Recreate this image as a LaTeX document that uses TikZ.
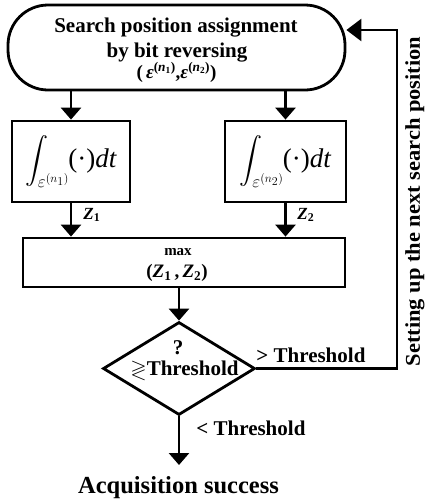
\documentclass[tikz,border=0pt]{standalone}
\usepackage{amsmath,amssymb}
\usepackage{graphicx}
\usepackage{fontspec}
\setmainfont{Liberation Serif}
\usetikzlibrary{arrows.meta,shapes.geometric}
\newcommand{\fsz}[1]{\fontsize{#1}{#1}\selectfont}
\newcommand{\epsn}[1]{{\itshape ε}\textsuperscript{({\itshape n}\textsubscript{#1})}}
\newcommand{\intof}[1]{{\fsz{23}$\displaystyle\int_{\varepsilon^{(n_{#1})}}$}\kern-1pt{\fsz{27}(·)\textit{dt}}}
\newcommand{\zz}[1]{{\itshape Z}\textsubscript{#1}}
\tikzset{
  flow/.style={-{Triangle[width=20pt,length=12pt]}},
  backflow/.style={-{Triangle[width=22pt,length=15pt]}},
  box/.style={draw, rectangle, inner sep=0pt},
  txt/.style={inner sep=0pt, font=\bfseries\fsz{21}},
  f15/.style={font=\bfseries\fsz{15}},
  f17/.style={font=\bfseries\fsz{17}},
  f19/.style={font=\bfseries\fsz{19}},
  f24/.style={font=\bfseries\fsz{24.5}},
}
\begin{document}
\begin{tikzpicture}[x=1pt,y=-1pt,line width=2.8pt]
\useasboundingbox (0,0) rectangle (425,501);
% top pill
\node[box, rounded corners=40pt, minimum width=337pt, minimum height=85pt] (pill) at (176.5,47.5) {};
\node[txt, anchor=base] (t1) at (176,32) {Search position assignment};
\node[txt, anchor=base] (t2) at (177,57) {by bit reversing};
\node[txt, f19, anchor=base] (t3) at (176.5,78) {(\,\epsn{1},\epsn{2})};
% integrator boxes
\node[box, minimum width=118pt, minimum height=81pt] (b1) at (71,161.5) {\intof{1}};
\node[box, minimum width=121pt, minimum height=81pt] (b2) at (285.5,161.5) {\intof{2}};
% max box
\node[box, minimum width=322pt, minimum height=49pt] (mx) at (184,262.5) {};
\node[txt, f15] (mxt) at (178,252) {max};
\node[txt, f19] (mxz) at (177,273) {(\zz{1}\,,\,\zz{2})};
% decision
\node[draw, diamond, inner sep=0pt, minimum width=152pt, minimum height=93pt] (dec) at (179,368.5) {};
\node[txt] (q) at (178,348) {?};
\node[txt] (thr) at (184.5,370) {$\gtrless$Threshold};
% arrows
\draw[flow] (pill.south -| b1.north) -- (b1.north);
\draw[flow] (pill.south -| b2.north) -- (b2.north);
\draw[flow] (b1.south) -- (b1.south |- mx.north);
\draw[flow] (b2.south) -- (b2.south |- mx.north);
\node[txt, anchor=west, f17] (z1) at (82,215) {\zz{1}};
\node[txt, anchor=west, f17] (z2) at (296,215) {\zz{2}};
\draw[flow] (mx.south -| dec.north) -- (dec.north);
\coordinate (fbb) at (397,368.5);
\coordinate (fbt) at (397,30);
\draw[backflow] (dec.east) -- (fbb) -- (fbt) -- (fbt -| pill.east);
\node[txt, anchor=west] (gt) at (255,355) {> Threshold};
\node[txt, rotate=90] (fbl) at (415,201.5) {\scalebox{1.07}[1]{Setting up the next search position}};
\coordinate (out) at (179,465);
\draw[flow] (dec.south) -- (out);
\node[txt, anchor=west] (lt) at (195,428) {< Threshold};
\node[txt, f24] (acq) at (178.5,488) {Acquisition success};
\end{tikzpicture}
\end{document}
